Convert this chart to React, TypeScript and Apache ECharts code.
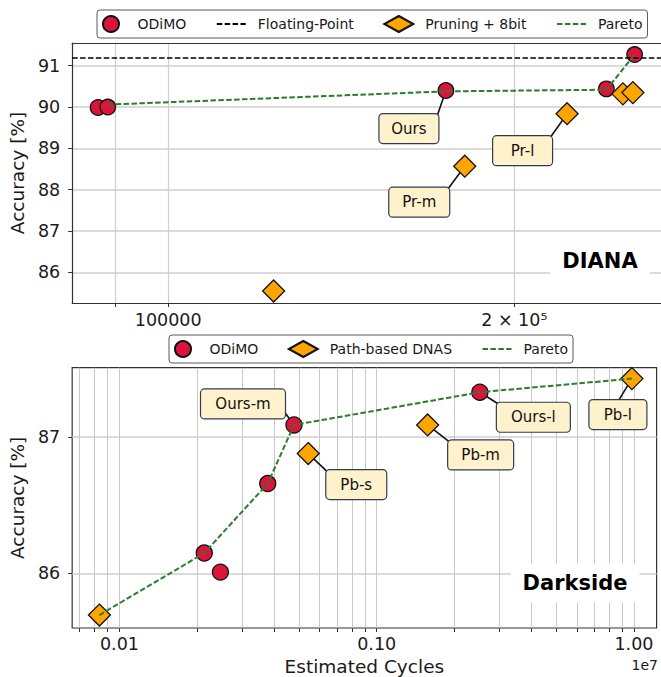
import React, { useEffect, useRef } from "react";
import * as echarts from "echarts";

// ---------------- DIANA panel (x: estimated cycles, y: accuracy %) ----------------
const dianaOdimo: [number, number][] = [
  [86900, 89.99],
  [88600, 90.0],
  [174400, 90.4],
  [240500, 90.44],
  [254500, 91.27],
];
const dianaPruning: [number, number][] = [
  [123500, 85.55],
  [181100, 88.57],
  [222300, 89.84],
  [248600, 90.32],
  [253600, 90.35],
];
const dianaPareto: [number, number][] = [
  [88600, 90.06],
  [174400, 90.38],
  [240500, 90.42],
  [254500, 91.27],
];
const dianaFloatingPoint = 91.19;
const dianaXTicks = [90000, 100000, 200000];
const dianaXLabels = [100000, 200000];
const dianaXLabelText = ["100000", "2 × 10⁵"];
const dianaYTicks = [86, 87, 88, 89, 90, 91];
const dianaNoteText = ["Ours", "Pr-m", "Pr-l"];
const dianaNotePoints = [dianaOdimo[2], dianaPruning[1], dianaPruning[2]];

// ---------------- Darkside panel (x in units of 1e7 cycles) ----------------
const darkOdimo: [number, number][] = [
  [0.02137, 86.15],
  [0.02469, 86.01],
  [0.03771, 86.66],
  [0.04771, 87.09],
  [0.2518, 87.33],
];
const darkPathBased: [number, number][] = [
  [0.00836, 85.695],
  [0.0542, 86.88],
  [0.1578, 87.09],
  [0.982, 87.43],
];
const darkPareto: [number, number][] = [
  [0.00836, 85.695],
  [0.02137, 86.15],
  [0.03771, 86.66],
  [0.04771, 87.09],
  [0.2518, 87.33],
  [0.982, 87.43],
];
const darkXTicks = [
  0.007, 0.008, 0.009, 0.01, 0.02, 0.03, 0.04, 0.05, 0.06, 0.07, 0.08, 0.09,
  0.1, 0.2, 0.3, 0.4, 0.5, 0.6, 0.7, 0.8, 0.9, 1,
];
const darkXLabels = [0.01, 0.1, 1];
const darkXLabelText = ["0.01", "0.10", "1.00"];
const darkYTicks = [86, 87];
const darkNoteText = ["Ours-m", "Pb-s", "Pb-m", "Ours-l", "Pb-l"];
const darkNotePoints = [darkOdimo[3], darkPathBased[1], darkPathBased[2], darkOdimo[4], darkPathBased[3]];

// ---------------- styles / layout ----------------
const FONT = "DejaVu Sans";
const RED = "#dc143c";
const ORANGE = "#ffa500";
const GREEN = "#2a7d2a";
const EDGE = "#111111";
const GRID = "#cfcfcf";
const FRAME = "#333333";
const DASH = [5.5, 2.4];

// box center offset (dx, dy), width, and line end offset (lx, ly) relative to the point in px
const dianaNoteLayout = [
  { dx: -37, dy: 38, w: 60, lx: -9, ly: 26 },
  { dx: -45.5, dy: 36, w: 61, lx: -17, ly: 23 },
  { dx: -44.5, dy: 37, w: 60, lx: -17, ly: 24 },
];
const darkNoteLayout = [
  { dx: -51, dy: -21, w: 85, lx: -11, ly: -15 },
  { dx: 48, dy: 31, w: 61, lx: 20, ly: 19 },
  { dx: 53, dy: 30, w: 66, lx: 23, ly: 18 },
  { dx: 53.5, dy: 25, w: 74, lx: 19, ly: 12 },
  { dx: -14, dy: 36, w: 58, lx: -14, ly: 23 },
];

function matchLabel(v: number, values: number[], texts: string[]) {
  const i = values.findIndex((t) => Math.abs(t - v) / t < 1e-6);
  return i >= 0 ? texts[i] : "";
}

export default function App() {
  const ref = useRef<HTMLDivElement>(null);

  useEffect(() => {
    const el = ref.current;
    if (!el) return;
    const chart = echarts.init(el, null, { renderer: "svg" });

    const tickLabel = { fontFamily: FONT, fontSize: 17.5, color: "#1a1a1a" };
    const axisName = { fontFamily: FONT, fontSize: 18.5, color: "#1a1a1a" };
    const frameLine = { show: true, lineStyle: { color: FRAME, width: 1.2 } };
    const legendBase = {
      orient: "horizontal",
      padding: [5, 5, 5, 5],
      itemGap: 29.5,
      itemWidth: 29,
      itemHeight: 16,
      borderColor: "#5a5a5a",
      borderWidth: 1,
      borderRadius: 3,
      backgroundColor: "#ffffff",
      textStyle: { fontFamily: FONT, fontSize: 14, color: "#1a1a1a", padding: [0, 0, 0, 7] },
    };
    const hiddenSymbol = { opacity: 0, color: "transparent", borderColor: "transparent", borderWidth: 0 };
    const markerOdimo = { color: RED, borderColor: EDGE, borderWidth: 1.3, opacity: 1 };
    const markerOrange = { color: ORANGE, borderColor: EDGE, borderWidth: 1.3, opacity: 1 };

    const option: any = {
      animation: false,
      backgroundColor: "#ffffff",
      textStyle: { fontFamily: FONT },
      grid: [
        { left: 66.6, top: 43, right: 0, height: 260, show: false },
        { left: 66.6, top: 367.7, width: 590, height: 261.3, show: true, borderColor: FRAME, borderWidth: 1.2, backgroundColor: "transparent" },
      ],
      legend: [
        {
          ...legendBase,
          left: 97,
          top: 10,
          data: [
            "ODiMO",
            { name: "Floating-Point", itemStyle: hiddenSymbol },
            "Pruning + 8bit",
            { name: "Pareto", itemStyle: hiddenSymbol },
          ],
        },
        {
          ...legendBase,
          left: 169,
          top: 335,
          data: ["ODiMO", "Path-based DNAS", { name: "Pareto", itemStyle: hiddenSymbol }],
        },
      ],
      xAxis: [
        {
          type: "log",
          logBase: 10,
          gridIndex: 0,
          min: 82500,
          max: 268300,
          axisLine: frameLine,
          axisTick: { show: true, length: 4, customValues: dianaXTicks, lineStyle: { color: FRAME } },
          axisLabel: {
            ...tickLabel,
            margin: 8,
            customValues: dianaXLabels,
            formatter: (v: number) => matchLabel(v, dianaXLabels, dianaXLabelText),
          },
          splitLine: { show: true, lineStyle: { color: GRID, width: 1.2 } },
        },
        {
          type: "log",
          logBase: 10,
          gridIndex: 1,
          min: 0.00655,
          max: 1.225,
          name: "Estimated Cycles",
          nameLocation: "middle",
          nameGap: 29,
          nameTextStyle: axisName,
          axisLine: { show: false },
          axisTick: { show: true, length: 4, customValues: darkXTicks, lineStyle: { color: FRAME } },
          axisLabel: {
            ...tickLabel,
            margin: 7,
            customValues: darkXLabels,
            formatter: (v: number) => matchLabel(v, darkXLabels, darkXLabelText),
          },
          splitLine: { show: true, lineStyle: { color: "#c8c8c8", width: 1 } },
        },
        {
          // top frame line of the DIANA panel
          type: "log",
          logBase: 10,
          gridIndex: 0,
          position: "top",
          min: 82500,
          max: 268300,
          axisLine: frameLine,
          axisTick: { show: false },
          axisLabel: { show: false },
          splitLine: { show: false },
        },
      ],
      yAxis: [
        {
          type: "value",
          gridIndex: 0,
          min: 85.26,
          max: 91.55,
          name: "Accuracy [%]",
          nameLocation: "middle",
          nameRotate: 90,
          nameGap: 38,
          nameTextStyle: axisName,
          axisLine: frameLine,
          axisTick: { show: true, length: 4, customValues: dianaYTicks, lineStyle: { color: FRAME } },
          axisLabel: { ...tickLabel, margin: 12, customValues: dianaYTicks },
          splitLine: { show: true, lineStyle: { color: GRID, width: 1.5 } },
        },
        {
          type: "value",
          gridIndex: 1,
          min: 85.6,
          max: 87.51,
          name: "Accuracy [%]",
          nameLocation: "middle",
          nameRotate: 90,
          nameGap: 38,
          nameTextStyle: axisName,
          axisLine: { show: false },
          axisTick: { show: true, length: 4, customValues: darkYTicks, lineStyle: { color: FRAME } },
          axisLabel: { ...tickLabel, margin: 12, customValues: darkYTicks },
          splitLine: { show: true, lineStyle: { color: GRID, width: 1.5 } },
        },
      ],
      series: [
        {
          type: "line",
          name: "Floating-Point",
          xAxisIndex: 0,
          yAxisIndex: 0,
          data: [],
          symbol: "none",
          z: 1,
          lineStyle: { color: "#000", width: 1.6, type: DASH },
          itemStyle: { color: "#000" },
          markLine: {
            silent: true,
            symbol: "none",
            label: { show: false },
            lineStyle: { color: "#000", width: 1.6, type: DASH },
            data: [{ yAxis: dianaFloatingPoint }],
          },
        },
        {
          type: "scatter",
          name: "ODiMO",
          xAxisIndex: 0,
          yAxisIndex: 0,
          data: dianaOdimo,
          symbol: "circle",
          symbolSize: 15.5,
          itemStyle: markerOdimo,
          z: 3,
        },
        {
          type: "scatter",
          name: "Pruning + 8bit",
          xAxisIndex: 0,
          yAxisIndex: 0,
          data: dianaPruning,
          symbol: "diamond",
          symbolSize: 22,
          itemStyle: markerOrange,
          z: 4,
        },
        {
          type: "line",
          name: "Pareto",
          xAxisIndex: 0,
          yAxisIndex: 0,
          data: dianaPareto,
          symbol: "none",
          showSymbol: false,
          lineStyle: { color: GREEN, width: 2, type: DASH },
          itemStyle: { color: GREEN },
          z: 5,
        },
        {
          type: "scatter",
          name: "ODiMO",
          xAxisIndex: 1,
          yAxisIndex: 1,
          data: darkOdimo,
          symbol: "circle",
          symbolSize: 16,
          itemStyle: markerOdimo,
          z: 3,
        },
        {
          type: "scatter",
          name: "Path-based DNAS",
          xAxisIndex: 1,
          yAxisIndex: 1,
          data: darkPathBased,
          symbol: "diamond",
          symbolSize: 22,
          itemStyle: markerOrange,
          z: 4,
        },
        {
          type: "line",
          name: "Pareto",
          xAxisIndex: 1,
          yAxisIndex: 1,
          data: darkPareto,
          symbol: "none",
          showSymbol: false,
          lineStyle: { color: GREEN, width: 2, type: DASH },
          itemStyle: { color: GREEN },
          z: 5,
        },
      ],
    };

    chart.setOption(option);

    const graphics: any[] = [];
    const addNotes = (gridIndex: number, texts: string[], points: [number, number][], layout: any[]) => {
      texts.forEach((text, i) => {
        const p = chart.convertToPixel({ gridIndex }, points[i]) as number[];
        if (!p) return;
        const L = layout[i];
        const cx = p[0] + L.dx;
        const cy = p[1] + L.dy;
        graphics.push({
          type: "line",
          z: 2,
          shape: { x1: p[0], y1: p[1], x2: p[0] + L.lx, y2: p[1] + L.ly },
          style: { stroke: "#111", lineWidth: 1.6 },
        });
        graphics.push({
          type: "rect",
          z: 6,
          shape: { x: cx - L.w / 2, y: cy - 15, width: L.w, height: 30, r: 4 },
          style: { fill: "#fff2cc", stroke: "#2f3e4e", lineWidth: 1.2 },
        });
        graphics.push({
          type: "text",
          z: 7,
          x: cx,
          y: cy,
          style: { text, fontFamily: FONT, fontSize: 15, fill: "#111", align: "center", verticalAlign: "middle" },
        });
      });
    };
    addNotes(0, dianaNoteText, dianaNotePoints, dianaNoteLayout);
    addNotes(1, darkNoteText, darkNotePoints, darkNoteLayout);

    const panelTitle = (text: string, x: number, y: number) => ({
      type: "text",
      z: 4,
      x,
      y,
      style: {
        text,
        fontFamily: FONT,
        fontSize: 21,
        fontWeight: "bold",
        fill: "#000",
        align: "center",
        verticalAlign: "middle",
        backgroundColor: "#ffffff",
        padding: [9, 12, 9, 12],
      },
    });
    graphics.push(panelTitle("DIANA", 600, 261));
    graphics.push(panelTitle("Darkside", 575, 583));
    graphics.push({
      type: "text",
      z: 4,
      x: 658,
      y: 665,
      style: { text: "1e7", fontFamily: FONT, fontSize: 14, fill: "#1a1a1a", align: "right", verticalAlign: "middle" },
    });

    chart.setOption({ graphic: graphics });

    return () => chart.dispose();
  }, []);

  return (
    <div
      ref={ref}
      style={{ position: "fixed", left: 0, top: 0, width: 661, height: 677, background: "#fff" }}
    />
  );
}
